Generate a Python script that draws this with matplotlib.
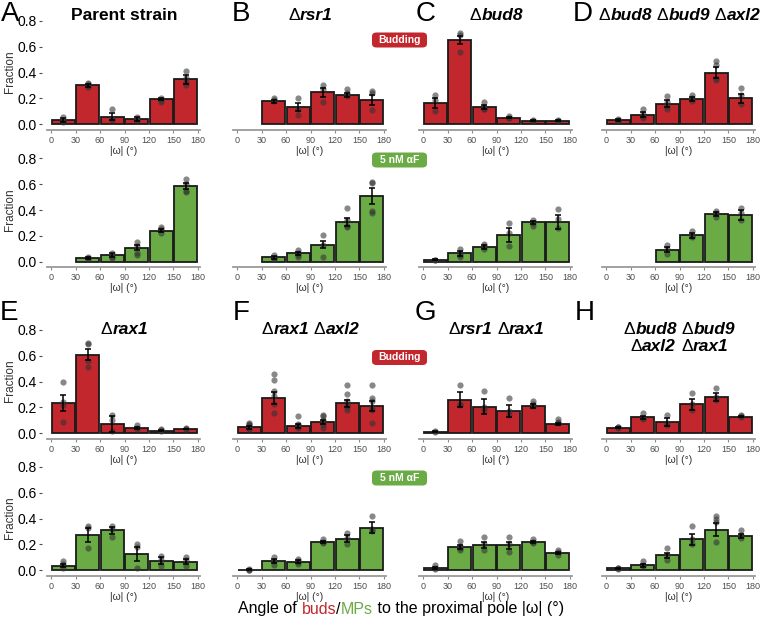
import matplotlib
matplotlib.use('Agg')
import matplotlib.pyplot as plt
from matplotlib.patches import FancyBboxPatch
import numpy as np

plt.rcParams['font.family'] = ['Liberation Sans', 'DejaVu Sans']

W, H = 762, 625
RED = '#c1272d'
GREEN = '#6aab46'

bin_centers = [15, 45, 75, 105, 135, 165]
angle_ticks = [0, 30, 60, 90, 120, 150, 180]
frac_ticks = [0.0, 0.2, 0.4, 0.6, 0.8]

# ---- A: parent strain
parent_bud_frac = [0.033, 0.300, 0.059, 0.041, 0.195, 0.350]
parent_bud_sem = [0.015, 0.010, 0.030, 0.015, 0.010, 0.035]
parent_bud_reps = [[0.055, 0.025, 0.020], [0.320, 0.310, 0.295, 0.290], [0.120, 0.040, 0.030],
                   [0.055, 0.035, 0.030], [0.200, 0.190, 0.175], [0.410, 0.360, 0.330, 0.300]]
parent_af_frac = [None, 0.026, 0.051, 0.107, 0.240, 0.585]
parent_af_sem = [None, 0.008, 0.015, 0.020, 0.012, 0.025]
parent_af_reps = [[], [0.035, 0.025, 0.020], [0.070, 0.040, 0.030], [0.150, 0.120, 0.070, 0.050],
                  [0.270, 0.250, 0.220], [0.640, 0.600, 0.550, 0.540]]

# ---- B: rsr1
rsr1_bud_frac = [None, 0.177, 0.133, 0.249, 0.228, 0.190]
rsr1_bud_sem = [None, 0.010, 0.030, 0.035, 0.015, 0.040]
rsr1_bud_reps = [[], [0.200, 0.185, 0.180], [0.200, 0.120, 0.075], [0.300, 0.270, 0.170],
                 [0.270, 0.240, 0.220], [0.260, 0.240, 0.110]]
rsr1_af_frac = [None, 0.033, 0.064, 0.133, 0.310, 0.510]
rsr1_af_sem = [None, 0.010, 0.015, 0.025, 0.030, 0.060]
rsr1_af_reps = [[], [0.050, 0.030, 0.020], [0.090, 0.070, 0.050, 0.040], [0.210, 0.130, 0.040],
                [0.420, 0.320, 0.280, 0.270], [0.620, 0.610, 0.390, 0.380]]

# ---- C: bud8
bud8_bud_frac = [0.164, 0.651, 0.133, 0.051, 0.026, 0.026]
bud8_bud_sem = [0.040, 0.030, 0.015, 0.005, 0.003, 0.003]
bud8_bud_reps = [[0.230, 0.190, 0.100], [0.710, 0.690, 0.560], [0.170, 0.130, 0.120, 0.115],
                 [0.060, 0.050, 0.045], [0.030, 0.025, 0.025], [0.030, 0.025, 0.025]]
bud8_af_frac = [0.015, 0.066, 0.115, 0.205, 0.305, 0.305]
bud8_af_sem = [0.004, 0.020, 0.015, 0.055, 0.012, 0.055]
bud8_af_reps = [[0.015, 0.010], [0.100, 0.070, 0.050, 0.040], [0.140, 0.120, 0.100],
                [0.300, 0.220, 0.120], [0.320, 0.300, 0.280], [0.410, 0.330, 0.260]]

# ---- D: bud8 bud9 axl2
bba_bud_frac = [0.030, 0.072, 0.159, 0.192, 0.400, 0.200]
bba_bud_sem = [0.007, 0.020, 0.025, 0.015, 0.045, 0.035]
bba_bud_reps = [[0.040, 0.030, 0.025], [0.120, 0.080, 0.060, 0.050], [0.220, 0.170, 0.140, 0.120],
                [0.230, 0.200, 0.180], [0.490, 0.460, 0.360, 0.340], [0.280, 0.230, 0.160]]
bba_af_frac = [None, None, 0.092, 0.204, 0.373, 0.363]
bba_af_sem = [None, None, 0.020, 0.020, 0.015, 0.040]
bba_af_reps = [[], [], [0.130, 0.100, 0.060], [0.240, 0.200, 0.190], [0.390, 0.380, 0.350],
               [0.420, 0.380, 0.320]]

# ---- E: rax1
rax1_bud_frac = [0.233, 0.610, 0.072, 0.041, 0.020, 0.033]
rax1_bud_sem = [0.060, 0.045, 0.060, 0.010, 0.005, 0.002]
rax1_bud_reps = [[0.400, 0.240, 0.220, 0.090], [0.700, 0.690, 0.560, 0.510], [0.140, 0.100, 0.020],
                 [0.065, 0.040, 0.030], [0.035, 0.025, 0.020], [0.040, 0.035, 0.035]]
rax1_af_frac = [0.036, 0.274, 0.308, 0.128, 0.074, 0.067]
rax1_af_sem = [0.015, 0.055, 0.025, 0.055, 0.025, 0.020]
rax1_af_reps = [[0.070, 0.050, 0.020], [0.340, 0.330, 0.170], [0.340, 0.320, 0.260],
                [0.200, 0.180, 0.020], [0.110, 0.080, 0.030], [0.100, 0.080, 0.030]]

# ---- F: rax1 axl2
raxaxl_bud_frac = [0.046, 0.274, 0.059, 0.087, 0.231, 0.213]
raxaxl_bud_sem = [0.010, 0.045, 0.015, 0.015, 0.030, 0.040]
raxaxl_bud_reps = [[0.080, 0.070, 0.060, 0.050, 0.040, 0.030], [0.460, 0.410, 0.330, 0.290, 0.230, 0.160],
                   [0.130, 0.070, 0.060, 0.050, 0.040], [0.140, 0.130, 0.100, 0.090, 0.060, 0.040],
                   [0.370, 0.300, 0.250, 0.220, 0.200, 0.180], [0.370, 0.270, 0.250, 0.200, 0.180, 0.080]]
raxaxl_af_frac = [0.005, 0.072, 0.067, 0.218, 0.244, 0.330]
raxaxl_af_sem = [0.002, 0.015, 0.010, 0.010, 0.025, 0.040]
raxaxl_af_reps = [[0.008, 0.005, 0.003], [0.100, 0.070, 0.040], [0.090, 0.070, 0.060, 0.050],
                  [0.240, 0.220, 0.210], [0.290, 0.250, 0.200], [0.420, 0.320, 0.300]]

# ---- G: rsr1 rax1
rsrrax_bud_frac = [0.012, 0.260, 0.205, 0.172, 0.210, 0.072]
rsrrax_bud_sem = [0.003, 0.060, 0.060, 0.050, 0.015, 0.010]
rsrrax_bud_reps = [[0.015, 0.010], [0.370, 0.230, 0.220], [0.330, 0.200, 0.180], [0.270, 0.170, 0.140],
                   [0.250, 0.230, 0.210], [0.110, 0.090, 0.080]]
rsrrax_af_frac = [0.018, 0.182, 0.197, 0.192, 0.218, 0.133]
rsrrax_af_sem = [0.010, 0.015, 0.025, 0.025, 0.008, 0.010]
rsrrax_af_reps = [[0.040, 0.020, 0.010], [0.230, 0.190, 0.170, 0.160], [0.260, 0.200, 0.160],
                  [0.260, 0.200, 0.140], [0.240, 0.220, 0.210], [0.160, 0.140, 0.120]]

# ---- H: bud8 bud9 axl2 rax1
quad_bud_frac = [0.044, 0.123, 0.087, 0.223, 0.282, 0.128]
quad_bud_sem = [0.004, 0.012, 0.030, 0.045, 0.030, 0.005]
quad_bud_reps = [[0.050, 0.045, 0.040], [0.160, 0.120, 0.110], [0.140, 0.080, 0.060],
                 [0.310, 0.230, 0.180], [0.350, 0.280, 0.260], [0.140, 0.130, 0.125]]
quad_af_frac = [0.015, 0.038, 0.115, 0.238, 0.313, 0.262]
quad_af_sem = [0.002, 0.010, 0.020, 0.045, 0.050, 0.015]
quad_af_reps = [[0.020, 0.015, 0.010], [0.070, 0.040, 0.030], [0.170, 0.120, 0.080],
                [0.340, 0.240, 0.200], [0.420, 0.400, 0.370, 0.220], [0.310, 0.270, 0.250]]

panels = [
    ('A', 'Parent strain', 0, 0, parent_bud_frac, parent_bud_sem, parent_bud_reps, parent_af_frac, parent_af_sem, parent_af_reps),
    ('B', 'Δrsr1', 1, 0, rsr1_bud_frac, rsr1_bud_sem, rsr1_bud_reps, rsr1_af_frac, rsr1_af_sem, rsr1_af_reps),
    ('C', 'Δbud8', 2, 0, bud8_bud_frac, bud8_bud_sem, bud8_bud_reps, bud8_af_frac, bud8_af_sem, bud8_af_reps),
    ('D', 'Δbud8 Δbud9 Δaxl2', 3, 0, bba_bud_frac, bba_bud_sem, bba_bud_reps, bba_af_frac, bba_af_sem, bba_af_reps),
    ('E', 'Δrax1', 0, 1, rax1_bud_frac, rax1_bud_sem, rax1_bud_reps, rax1_af_frac, rax1_af_sem, rax1_af_reps),
    ('F', 'Δrax1 Δaxl2', 1, 1, raxaxl_bud_frac, raxaxl_bud_sem, raxaxl_bud_reps, raxaxl_af_frac, raxaxl_af_sem, raxaxl_af_reps),
    ('G', 'Δrsr1 Δrax1', 2, 1, rsrrax_bud_frac, rsrrax_bud_sem, rsrrax_bud_reps, rsrrax_af_frac, rsrrax_af_sem, rsrrax_af_reps),
    ('H', 'Δbud8 Δbud9\nΔaxl2 Δrax1', 3, 1, quad_bud_frac, quad_bud_sem, quad_bud_reps, quad_af_frac, quad_af_sem, quad_af_reps),
]

fig = plt.figure(figsize=(W / 100, H / 100), dpi=100)
renderer = fig.canvas.get_renderer()

# layout in pixels
col_left = [47, 233, 419, 602]
ax_w = 153
XLIM = (-5, 182.5)
YLIM = (-0.045, 0.82)
px_per_unit = 129
ax_h = (YLIM[1] - YLIM[0]) * px_per_unit
row_bottom = [130, 267.5, 439, 576]
letter_pos = {'A': (10, 14), 'B': (241, 14), 'C': (426, 14), 'D': (583, 14),
              'E': (9, 313), 'F': (241, 313), 'G': (425, 313), 'H': (585, 313)}
title_y = [16, 330]


def px_rect(left, bottom, w, h):
    return [left / W, 1 - bottom / H, w / W, h / H]


def draw_panel(ax, frac, sem, reps, color, show_y):
    x = np.array(bin_centers, dtype=float)
    f = np.array([np.nan if v is None else v for v in frac])
    e = np.array([np.nan if v is None else v for v in sem])
    ax.bar(x, f, width=28, color=color, edgecolor='#1a1a1a', linewidth=1.3, zorder=2)
    for xc, vals in zip(x, reps):
        if vals:
            ax.scatter([xc] * len(vals), vals, s=20, color='#333333', alpha=0.58,
                       linewidths=0, zorder=3)
    ax.errorbar(x, f, yerr=e, fmt='none', ecolor='black', elinewidth=1.1,
                capsize=2.5, capthick=1.1, zorder=4)
    ax.set_xlim(*XLIM)
    ax.set_ylim(*YLIM)
    ax.set_xticks(angle_ticks)
    ax.set_xticklabels([str(t) for t in angle_ticks], fontsize=6.5, color='#4d4d4d')
    ax.tick_params(axis='x', length=2.5, width=0.8, color='#8a8a8a', pad=1.5)
    for s in ['top', 'right', 'left']:
        ax.spines[s].set_visible(False)
    ax.spines['bottom'].set_color('#9a9a9a')
    ax.spines['bottom'].set_linewidth(1.3)
    ax.set_xlabel('|ω| (°)', fontsize=7.5, color='#333333', labelpad=1)
    if show_y:
        ax.set_yticks(frac_ticks)
        ax.set_yticklabels(['%.1f' % t for t in frac_ticks], fontsize=6.5, color='#4d4d4d')
        ax.spines['left'].set_position(('outward', 3.5))
        ax.tick_params(axis='y', length=2.5, width=0.8, color='#4d4d4d', pad=1.5)
        ax.set_ylabel('Fraction', fontsize=8.5, color='#333333')
        ax.yaxis.set_label_coords(-31 / ax_w, 0.52)
    else:
        ax.set_yticks([])
    ax.set_facecolor('none')


def text_adv(s, **kw):
    t1 = fig.text(0, 0, '|' + s + '|', **kw)
    t2 = fig.text(0, 0, '||', **kw)
    w = t1.get_window_extent(renderer).width - t2.get_window_extent(renderer).width
    t1.remove()
    t2.remove()
    return w


def draw_runs(xc, y, runs):
    # runs: list of (string, kwargs); drawn side by side centred on xc (pixels)
    advs = [text_adv(s, **kw) for s, kw in runs]
    x = xc - sum(advs) / 2
    for (s, kw), a in zip(runs, advs):
        fig.text(x / W, 1 - y / H, s, ha='left', va='center', **kw)
        x += a


def title_runs(title, size):
    up = dict(fontsize=size, fontweight='normal')
    bi = dict(fontsize=size, fontweight='bold', fontstyle='italic')
    if 'Δ' not in title:
        return [(title, dict(fontsize=size, fontweight='bold'))]
    runs = []
    for i, word in enumerate(title.split(' ')):
        if i > 0:
            runs.append((' ', bi))
        runs.append(('Δ', up))
        runs.append((word[1:], bi))
    return runs


for letter, title, col, half, bf, bs, br, af, asem, ar in panels:
    ax1 = fig.add_axes(px_rect(col_left[col], row_bottom[2 * half], ax_w, ax_h))
    draw_panel(ax1, bf, bs, br, RED, col == 0)
    ax2 = fig.add_axes(px_rect(col_left[col], row_bottom[2 * half + 1], ax_w, ax_h))
    draw_panel(ax2, af, asem, ar, GREEN, col == 0)

    lx, ly = letter_pos[letter]
    fig.text(lx / W, 1 - ly / H, letter, fontsize=20, ha='center', va='center')

    xc = col_left[col] + ax_w * (90 - XLIM[0]) / (XLIM[1] - XLIM[0])
    lines = title.split('\n')
    for k, line in enumerate(lines):
        draw_runs(xc, title_y[half] + k * 16.5, title_runs(line, 12.5))

# condition labels
for label, color, cy in [('Budding', RED, 40), ('5 nM αF', GREEN, 160),
                         ('Budding', RED, 357.5), ('5 nM αF', GREEN, 478)]:
    bw, bh = 55, 15
    box = FancyBboxPatch(((399.5 - bw / 2) / W, 1 - (cy + bh / 2) / H), bw / W, bh / H,
                         boxstyle='round,pad=0,rounding_size=0.006',
                         transform=fig.transFigure, facecolor=color, edgecolor='none')
    fig.patches.append(box)
    fig.text(399.5 / W, 1 - cy / H, label, color='white', fontsize=7.5, fontweight='bold',
             ha='center', va='center')

# common axis label
base = dict(fontsize=11.5)
draw_runs(401, 609, [('Angle of ', base), ('buds', dict(fontsize=11.5, color=RED)),
                     ('/', base), ('MPs', dict(fontsize=11.5, color=GREEN)),
                     (' to the proximal pole |ω| (°)', base)])

fig.savefig('out.png', dpi=100)
